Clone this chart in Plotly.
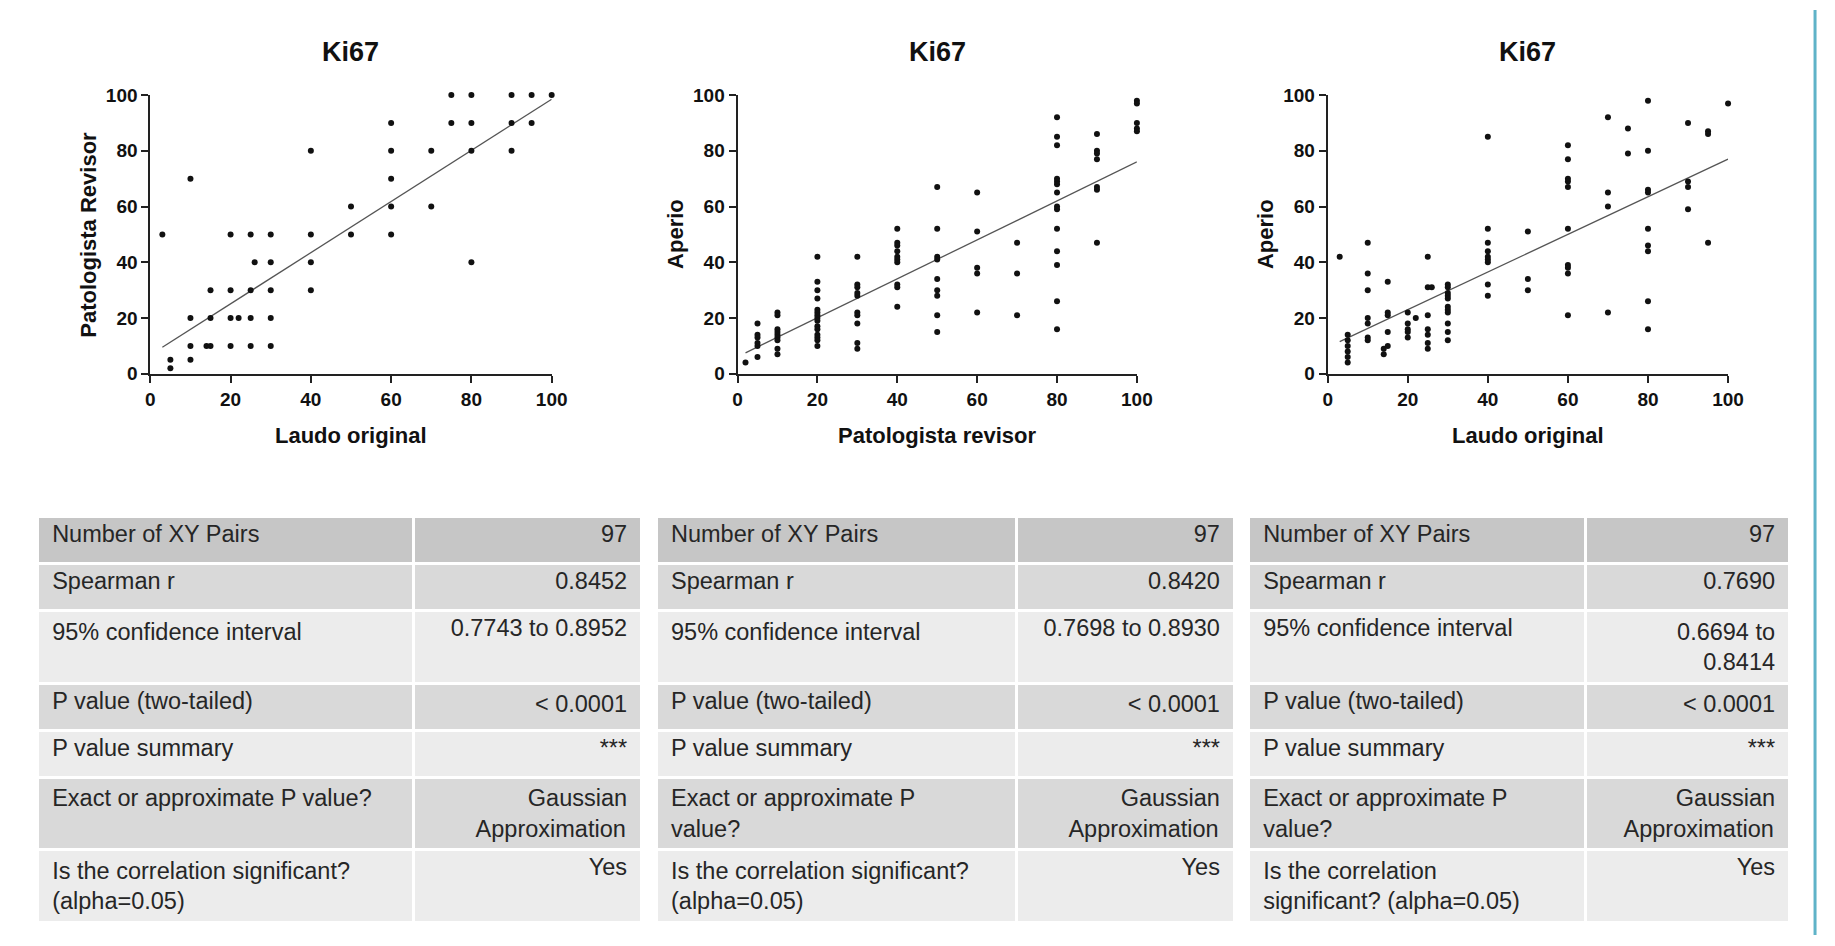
import plotly.graph_objects as go

# ---------------- scatter data ----------------
# Panel 1: Laudo original (x) vs Patologista Revisor (y)
p1_x = [3,
        5, 5,
        10, 10, 10, 10,
        14, 15, 15, 15,
        20, 20, 20, 20,
        22,
        25, 25, 25, 25,
        26,
        30, 30, 30, 30, 30,
        40, 40, 40, 40,
        50, 50,
        60, 60, 60, 60, 60,
        70, 70,
        75, 75,
        80, 80, 80, 80,
        90, 90, 90,
        95, 95,
        100]
p1_y = [50,
        5, 2,
        70, 20, 10, 5,
        10, 10, 20, 30,
        50, 30, 20, 10,
        20,
        50, 30, 20, 10,
        40,
        50, 40, 30, 20, 10,
        80, 50, 40, 30,
        60, 50,
        90, 80, 70, 60, 50,
        80, 60,
        100, 90,
        100, 90, 80, 40,
        100, 90, 80,
        100, 90,
        100]

# Panel 2: Patologista revisor (x) vs Aperio (y)
p2_x = [2,
        5, 5, 5, 5, 5, 5,
        10, 10, 10, 10, 10, 10, 10, 10, 10,
        20, 20, 20, 20, 20, 20, 20, 20, 20, 20, 20, 20, 20, 20, 20,
        30, 30, 30, 30, 30, 30, 30, 30, 30, 30,
        40, 40, 40, 40, 40, 40, 40, 40, 40, 40,
        50, 50, 50, 50, 50, 50, 50, 50, 50,
        60, 60, 60, 60, 60,
        70, 70, 70,
        80, 80, 80, 80, 80, 80, 80, 80, 80, 80, 80, 80, 80, 80,
        90, 90, 90, 90, 90, 90, 90,
        100, 100, 100, 100, 100]
p2_y = [4,
        18, 14, 13, 11, 10, 6,
        22, 21, 16, 15, 14, 13, 12, 9, 7,
        42, 33, 30, 27, 23, 22, 21, 20, 19, 17, 16, 14, 13, 12, 10,
        42, 32, 31, 29, 28, 22, 21, 18, 11, 9,
        52, 47, 46, 44, 42, 41, 40, 32, 31, 24,
        67, 52, 42, 41, 34, 30, 28, 21, 15,
        65, 51, 38, 36, 22,
        47, 36, 21,
        92, 85, 82, 70, 69, 68, 65, 60, 59, 52, 44, 39, 26, 16,
        86, 80, 79, 77, 67, 66, 47,
        98, 97, 90, 88, 87]

# Panel 3: Laudo original (x) vs Aperio (y)
p3_x = [3,
        5, 5, 5, 5, 5, 5,
        10, 10, 10, 10, 10, 10, 10,
        14, 14,
        15, 15, 15, 15, 15,
        20, 20, 20, 20, 20,
        22,
        25, 25, 25, 25, 25, 25, 25,
        26,
        30, 30, 30, 30, 30, 30, 30, 30, 30, 30, 30,
        40, 40, 40, 40, 40, 40, 40, 40, 40,
        50, 50, 50,
        60, 60, 60, 60, 60, 60, 60, 60, 60, 60,
        70, 70, 70, 70,
        75, 75,
        80, 80, 80, 80, 80, 80, 80, 80, 80,
        90, 90, 90, 90,
        95, 95, 95,
        100]
p3_y = [42,
        14, 12, 10, 8, 6, 4,
        47, 36, 30, 20, 18, 13, 12,
        9, 7,
        33, 22, 21, 15, 10,
        22, 18, 16, 15, 13,
        20,
        42, 31, 21, 16, 14, 11, 9,
        31,
        32, 31, 29, 28, 27, 24, 23, 22, 18, 15, 12,
        85, 52, 47, 44, 42, 41, 40, 32, 28,
        51, 34, 30,
        82, 77, 70, 69, 67, 52, 39, 38, 36, 21,
        92, 65, 60, 22,
        88, 79,
        98, 80, 66, 65, 52, 46, 44, 26, 16,
        90, 69, 67, 59,
        87, 86, 47,
        97]

# regression lines (end points)
fit1_x = [3, 100]
fit1_y = [9.5, 98.5]
fit2_x = [2, 100]
fit2_y = [7.5, 76]
fit3_x = [3, 100]
fit3_y = [11.5, 77]

panel_titles = ["Ki67", "Ki67", "Ki67"]
x_titles = ["Laudo original", "Patologista revisor", "Laudo original"]
y_titles = ["Patologista Revisor", "Aperio", "Aperio"]
tick_vals = [0, 20, 40, 60, 80, 100]

# ---------------- table data ----------------
labels_1 = ["Number of XY Pairs", "Spearman r", "95% confidence interval<br>\u00a0",
            "P value (two-tailed)", "P value summary", "Exact or approximate P value?<br>\u00a0",
            "Is the correlation significant?<br>(alpha=0.05)"]
values_1 = ["97", "0.8452", "0.7743 to 0.8952", "< 0.0001", "***",
            "Gaussian<br>Approximation", "Yes"]
labels_2 = ["Number of XY Pairs", "Spearman r", "95% confidence interval<br>\u00a0",
            "P value (two-tailed)", "P value summary", "Exact or approximate P<br>value?",
            "Is the correlation significant?<br>(alpha=0.05)"]
values_2 = ["97", "0.8420", "0.7698 to 0.8930", "< 0.0001", "***",
            "Gaussian<br>Approximation", "Yes"]
labels_3 = ["Number of XY Pairs", "Spearman r", "95% confidence interval",
            "P value (two-tailed)", "P value summary", "Exact or approximate P<br>value?",
            "Is the correlation<br>significant? (alpha=0.05)"]
values_3 = ["97", "0.7690", "0.6694 to<br>0.8414", "< 0.0001", "***",
            "Gaussian<br>Approximation", "Yes"]

FONT = "Liberation Sans, Arial, sans-serif"
AX = "#222222"
W, H = 1835, 946

# approximate Arial advance widths (em) used to right-align multi-line cell text
_CW = {" ": .278, ".": .278, "a": .556, "c": .5, "e": .556, "f": .278, "g": .556,
       "i": .222, "l": .222, "m": .833, "n": .556, "o": .556, "p": .556, "r": .333,
       "s": .5, "t": .278, "u": .556, "x": .5, "A": .667, "G": .778, "Y": .667}


def _w(s):
    return sum(_CW.get(ch, .556) for ch in s)


def right_block(s):
    lines = s.split("<br>")
    if len(lines) == 1:
        return s + "\u00a0"
    wmax = max(_w(l) for l in lines)
    out = []
    for l in lines:
        k = int(round((wmax - _w(l)) / .278))
        out.append("\u00a0" * k + l + "\u00a0")
    return "<br>".join(out)


fig = go.Figure()

scatter_sets = [(p1_x, p1_y, fit1_x, fit1_y),
                (p2_x, p2_y, fit2_x, fit2_y),
                (p3_x, p3_y, fit3_x, fit3_y)]

x_domains = [[147 / W, 553 / W], [741 / W, 1145 / W], [1338 / W, 1743 / W]]
y_domain = [1 - 372 / H, 1 - 87 / H]

for i, (xs, ys, fx, fy) in enumerate(scatter_sets):
    n = "" if i == 0 else str(i + 1)
    fig.add_trace(go.Scatter(x=fx, y=fy, mode="lines",
                             line=dict(color="#555555", width=1.3),
                             xaxis="x" + n, yaxis="y" + n, hoverinfo="skip"))
    fig.add_trace(go.Scatter(x=xs, y=ys, mode="markers",
                             marker=dict(color="#111111", size=6),
                             cliponaxis=False,
                             xaxis="x" + n, yaxis="y" + n))
    axis_common = dict(range=[0, 100], tickvals=tick_vals, showgrid=False, zeroline=False,
                       showline=True, linecolor=AX, linewidth=2,
                       ticks="outside", ticklen=7, tickwidth=2, tickcolor=AX,
                       tickfont=dict(family=FONT, size=19, color="#111111", weight="bold"),
                       fixedrange=True)
    fig.update_layout(**{
        "xaxis" + n: dict(domain=x_domains[i], anchor="y" + n, **axis_common),
        "yaxis" + n: dict(domain=y_domain, anchor="x" + n, **axis_common),
    })
    xd = ("x" + n) + " domain"
    yd = ("y" + n) + " domain"
    fig.add_annotation(text=panel_titles[i], xref=xd, x=0.5, yref="paper", y=1 - 43 / H,
                       xanchor="center", yanchor="middle", showarrow=False,
                       font=dict(family=FONT, size=27, color="#111111", weight="bold"))
    fig.add_annotation(text=x_titles[i], xref=xd, x=0.5, yref=yd, y=0,
                       xanchor="center", yanchor="middle", yshift=-62, showarrow=False,
                       font=dict(family=FONT, size=22, color="#111111", weight="bold"))
    fig.add_annotation(text=y_titles[i], xref=xd, x=0, yref=yd, y=0.5, textangle=-90,
                       xanchor="center", yanchor="middle", xshift=-62, showarrow=False,
                       font=dict(family=FONT, size=22, color="#111111", weight="bold"))

# ---------------- tables ----------------
PAD = "\u00a0"
row_fills = ["#d9d9d9", "#ececec", "#d9d9d9", "#ececec", "#d9d9d9", "#ececec"]
table_sets = [(labels_1, values_1, [33, 413, 644]),
              (labels_2, values_2, [659, 1023, 1244]),
              (labels_3, values_3, [1258, 1599, 1806])]

for labels, values, (xl, xs_, xr) in table_sets:
    left = [PAD + s.replace("<br>", "<br>" + PAD) for s in labels]
    right = [right_block(s) for s in values]
    fig.add_trace(go.Table(
        domain=dict(x=[xl / W, xr / W], y=[0, 1 - 518 / H]),
        columnwidth=[xs_ - xl, xr - xs_],
        header=dict(values=[left[0], right[0]],
                    fill_color="#c6c6c6",
                    line=dict(color="white", width=3),
                    align=["left", "right"],
                    height=47,
                    font=dict(family=FONT, size=23.5, color="#262626")),
        cells=dict(values=[left[1:], right[1:]],
                   fill_color=[row_fills, row_fills],
                   line=dict(color="white", width=3),
                   align=["left", "right"],
                   height=47,
                   font=dict(family=FONT, size=23.5, color="#262626")),
    ))

# thin teal border at the right edge of the picture
fig.add_shape(type="line", xref="paper", yref="paper", x0=1831 / W, x1=1831 / W, y0=0, y1=1,
              line=dict(color="#5fb3c8", width=3))

fig.update_layout(width=W, height=H, margin=dict(l=0, r=0, t=0, b=0),
                  paper_bgcolor="white", plot_bgcolor="white", showlegend=False,
                  font=dict(family=FONT))

fig.write_html("out.html",
               config={"displayModeBar": False},
               post_script="document.body.style.margin='0px';"
                           "document.body.style.overflow='hidden';")
